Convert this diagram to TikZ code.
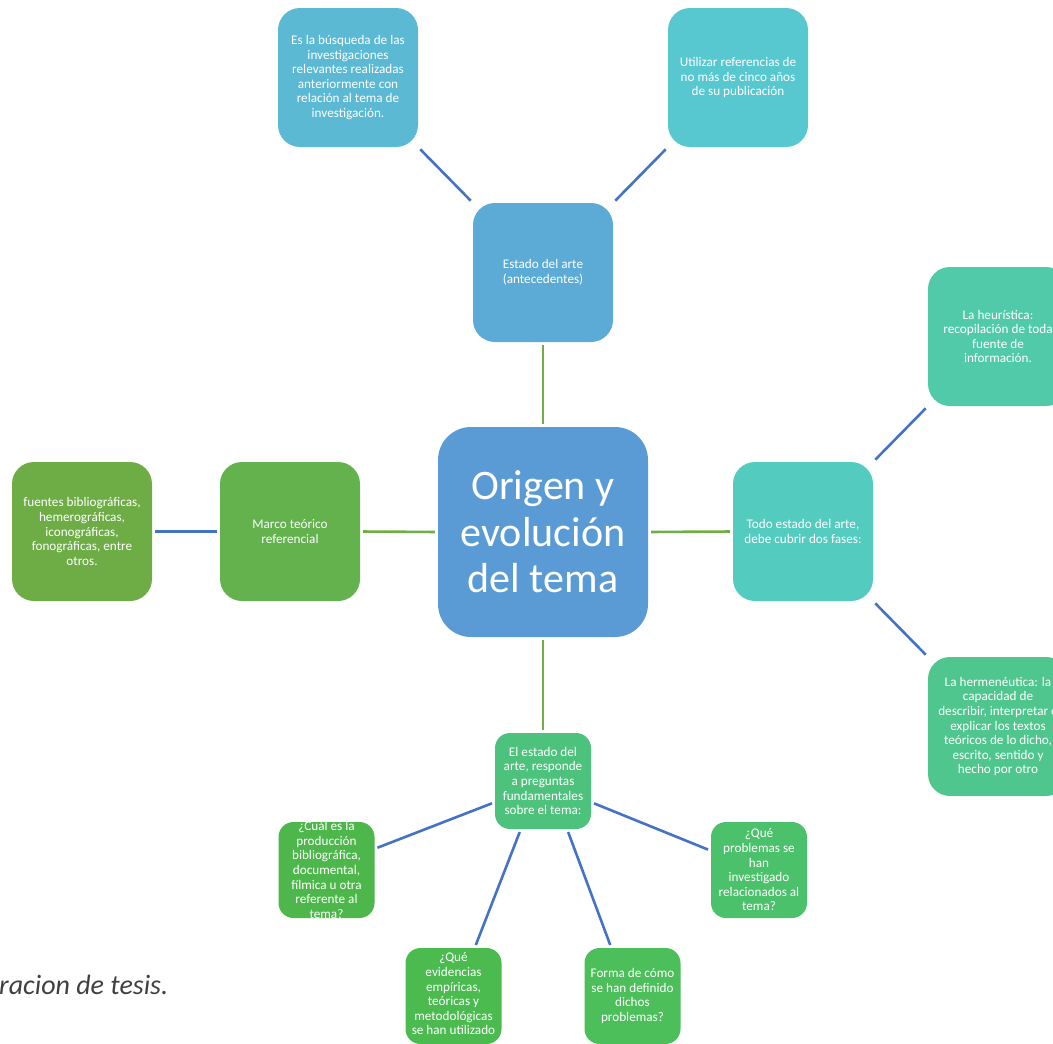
\documentclass[tikz,border=0pt]{standalone}
\usepackage{fontspec}
\setmainfont{Carlito}
\usetikzlibrary{calc}
\definecolor{cTL}{HTML}{5BB9D4}
\definecolor{cTR}{HTML}{57C8CF}
\definecolor{cEST}{HTML}{5BABD6}
\definecolor{cCTR}{HTML}{5B9BD5}
\definecolor{cMAR}{HTML}{63B24D}
\definecolor{cFUE}{HTML}{6EAC46}
\definecolor{cTOD}{HTML}{53CBBF}
\definecolor{cHEU}{HTML}{51CAA9}
\definecolor{cHER}{HTML}{4FC68E}
\definecolor{cEE}{HTML}{4DC27C}
\definecolor{cCUA}{HTML}{4DB74B}
\definecolor{cQP}{HTML}{4CC16C}
\definecolor{cEVI}{HTML}{4BBB50}
\definecolor{cFOR}{HTML}{4CBF5B}
\definecolor{lblue}{HTML}{4472C4}
\definecolor{lgreen}{HTML}{70AD47}
\tikzset{
  bigbox/.style={rounded corners=22, minimum width=140, minimum height=139, inner sep=0, draw=none},
  smallbox/.style={rounded corners=15, minimum width=96, minimum height=96, inner sep=0, draw=none},
  txt/.style={text=white, align=center, inner sep=0, font=\fontsize{13.2}{14.6}\selectfont},
  bl/.style={draw=lblue, line width=2.6, shorten <=3, shorten >=3},
  gl/.style={draw=lgreen, line width=2.6, shorten <=3, shorten >=3}
}
\begin{document}
\begin{tikzpicture}[x=1pt,y=-1pt]
\useasboundingbox (0,0) rectangle (1053,1044);
% boxes
\node[bigbox, fill=cTL] (tl) at (348,77.5) {};
\node[bigbox, fill=cTR] (tr) at (738,77.5) {};
\node[bigbox, fill=cEST] (est) at (543,272.5) {};
\node[rounded corners=33, minimum width=210, minimum height=210, inner sep=0, fill=cCTR] (ctr) at (543,532) {};
\node[bigbox, fill=cMAR] (marco) at (290,531.5) {};
\node[bigbox, fill=cFUE] (fue) at (82,531.5) {};
\node[bigbox, fill=cTOD] (todo) at (803,531.5) {};
\node[bigbox, fill=cHEU] (heur) at (998,336.5) {};
\node[bigbox, fill=cHER] (herm) at (998,726.5) {};
\node[smallbox, fill=cEE] (ee) at (543,781) {};
\node[smallbox, fill=cCUA] (cual) at (326.5,870) {};
\node[smallbox, fill=cQP] (qp) at (759,870) {};
\node[smallbox, fill=cEVI] (evid) at (453.5,996) {};
\node[smallbox, fill=cFOR] (forma) at (632.5,996) {};
% texts
\node[txt] (tlt) at (tl) {Es la búsqueda de las\\investigaciones\\relevantes realizadas\\anteriormente con\\relación al tema de\\investigación.};
\node[txt] (trt) at (tr) {Utilizar referencias de\\no más de cinco años\\de su publicación};
\node[txt] (estt) at (est) {Estado del arte\\(antecedentes)};
\node[text=white, align=center, inner sep=0, font=\fontsize{42}{46.5}\selectfont] (ctrt) at (ctr) {Origen y\\evolución\\del tema};
\node[txt] (marcot) at (marco) {Marco teórico\\referencial};
\node[txt] (fuet) at (fue) {fuentes bibliográficas,\\hemerográficas,\\iconográficas,\\fonográficas, entre\\otros.};
\node[txt] (todot) at (todo) {Todo estado del arte,\\debe cubrir dos fases:};
\node[txt] (heurt) at (heur) {La heurística:\\recopilación de toda\\fuente de\\información.};
\node[txt] (hermt) at (herm) {La hermenéutica: la\\capacidad de\\describir, interpretar e\\explicar los textos\\teóricos de lo dicho,\\escrito, sentido y\\hecho por otro};
\node[txt] (eet) at (ee) {El estado del\\arte, responde\\a preguntas\\fundamentales\\sobre el tema:};
\node[txt] (cualt) at (cual) {¿Cuál es la\\producción\\bibliográfica,\\documental,\\fílmica u otra\\referente al\\tema?};
\node[txt] (qpt) at (qp) {¿Qué\\problemas se\\han\\investigado\\relacionados al\\tema?};
\node[txt] (evidt) at ([yshift=2]evid.center) {¿Qué\\evidencias\\empíricas,\\teóricas y\\metodológicas\\se han utilizado};
\node[txt] (format) at (forma) {Forma de cómo\\se han definido\\dichos\\problemas?};
\node[anchor=west, inner sep=0, text=black!75, font=\fontsize{28}{32}\selectfont\itshape] (cap) at (-1,985) {racion de tesis.};
% connectors
\draw[gl] (ctr.north) -- (est.south);
\draw[gl] (ctr.west) -- (marco.east);
\draw[gl] (ctr.east) -- (todo.west);
\draw[gl] (ctr.south) -- (ee.north);
\draw[bl] (est.north west) -- (tl.south east);
\draw[bl] (est.north east) -- (tr.south west);
\draw[bl] (marco.west) -- (fue.east);
\draw[bl] (todo.north east) -- (heur.south west);
\draw[bl] (todo.south east) -- (herm.north west);
\draw[bl] ($(ee.south west)!0.28!(ee.north west)$) -- ($(cual.south east)!0.72!(cual.north east)$);
\draw[bl] ($(ee.south east)!0.28!(ee.north east)$) -- ($(qp.south west)!0.70!(qp.north west)$);
\draw[bl] ($(ee.south west)!0.27!(ee.south east)$) -- ($(evid.north west)!0.72!(evid.north east)$);
\draw[bl] ($(ee.south west)!0.75!(ee.south east)$) -- ($(forma.north west)!0.28!(forma.north east)$);
\end{tikzpicture}
\end{document}
